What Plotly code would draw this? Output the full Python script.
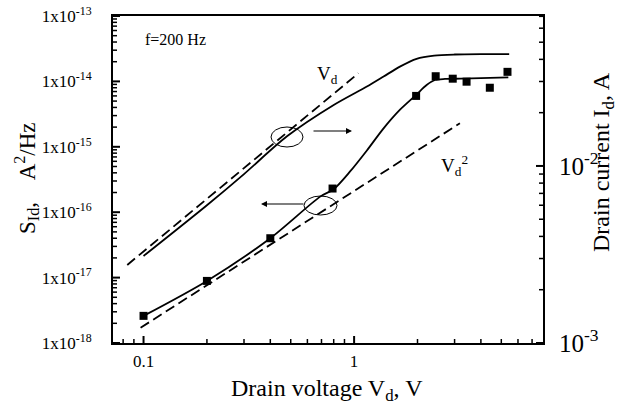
import math
import plotly.graph_objects as go

# ---------------- data ----------------
vd_meas = [0.1, 0.2, 0.4, 0.79, 1.97, 2.44, 2.94, 3.42, 4.41, 5.35]
s_meas = [2.6e-18, 8.9e-18, 4.0e-17, 2.3e-16, 6.0e-15, 1.2e-14, 1.1e-14, 9.9e-15, 8.0e-15, 1.4e-14]

vd_sfit = [0.1, 0.2, 0.4, 0.69, 0.8, 0.957, 1.15, 1.377, 1.652, 1.967, 2.21, 2.42, 2.7, 3.2, 4.0, 5.4]
s_fit = [2.6e-18, 8.9e-18, 4.0e-17, 1.73e-16, 2.25e-16, 4.2e-16, 8.8e-16, 1.9e-15, 3.7e-15,
         6.2e-15, 8.8e-15, 1.05e-14, 1.09e-14, 1.1e-14, 1.12e-14, 1.15e-14]

vd_id = [0.1, 0.2, 0.3, 0.48, 0.8, 1.15, 1.38, 1.65, 1.98, 2.4, 3.0, 4.0, 5.45]
id_curve = [3.1e-3, 6.0e-3, 9.0e-3, 0.0147, 0.0221, 0.0281, 0.032, 0.0364, 0.0403, 0.042, 0.0426,
            0.0428, 0.0428]

vd_lin = [0.0837, 1.048]
id_lin = [2.76e-3, 0.0334]

vd_sq = [0.0968, 3.18]
s_sq = [1.71e-18, 2.29e-15]

left_tickvals = [1e-18, 1e-17, 1e-16, 1e-15, 1e-14, 1e-13]
left_ticktext = ["1x10<sup>-18</sup>", "1x10<sup>-17</sup>", "1x10<sup>-16</sup>",
                 "1x10<sup>-15</sup>", "1x10<sup>-14</sup>", "1x10<sup>-13</sup>"]
right_tickvals = [1e-3, 1e-2]
right_ticktext = ["10<sup>-3</sup>", "10<sup>-2</sup>"]
x_tickvals = [0.1, 1]
x_ticktext = ["0.1", "1"]

# minor tick positions (2..9 within each decade)
x_minor = [m * 10.0 ** e for e in (-2, -1, 0) for m in range(2, 10)]
left_minor = [m * 10.0 ** e for e in range(-18, -13) for m in range(2, 10)]
right_minor = [m * 10.0 ** e for e in (-3, -2) for m in range(2, 10)]

# ---------------- layout geometry ----------------
W, H = 629, 411
L, R, T, B = 113, 543, 16, 343
FONT = "Liberation Serif, Times New Roman, serif"
X_RANGE = [-1.145, 0.897]
Y_RANGE = [-18, -13]
Y2_RANGE = [-3, -1.153]
PW, PH = R - L, B - T


def px(xp):
    return (xp - L) / PW


def py(yp):
    return (B - yp) / PH


def frac(v, rng):
    return (math.log10(v) - rng[0]) / (rng[1] - rng[0])


fig = go.Figure()

fig.add_trace(go.Scatter(x=vd_sq, y=s_sq, mode="lines",
                         line=dict(color="black", width=1.8, dash="10px,5px"),
                         showlegend=False, hoverinfo="skip"))
fig.add_trace(go.Scatter(x=vd_sfit, y=s_fit, mode="lines", line_shape="spline",
                         line=dict(color="black", width=1.8, smoothing=0.8), showlegend=False))
fig.add_trace(go.Scatter(x=vd_meas, y=s_meas, mode="markers",
                         marker=dict(symbol="square", size=8, color="black"),
                         showlegend=False))
fig.add_trace(go.Scatter(x=vd_lin, y=id_lin, mode="lines", yaxis="y2",
                         line=dict(color="black", width=1.8, dash="10px,5px"),
                         showlegend=False))
fig.add_trace(go.Scatter(x=vd_id, y=id_curve, mode="lines", yaxis="y2", line_shape="spline",
                         line=dict(color="black", width=1.8, smoothing=0.8), showlegend=False))

base = dict(showgrid=False, zeroline=False, linecolor="black", linewidth=2,
            ticks="", showline=True)

fig.update_layout(
    width=W, height=H,
    margin=dict(l=L, r=W - R, t=T, b=H - B, autoexpand=False),
    paper_bgcolor="white", plot_bgcolor="white",
    font=dict(family=FONT, color="black"),
    xaxis=dict(type="log", range=X_RANGE, tickvals=x_tickvals, ticktext=x_ticktext,
               mirror=True, ticklabelstandoff=2,
               tickfont=dict(family=FONT, size=17, color="black"), **base),
    yaxis=dict(type="log", range=Y_RANGE, tickvals=left_tickvals, ticktext=left_ticktext,
               mirror=False, ticklabelstandoff=16,
               tickfont=dict(family=FONT, size=17, color="black"), **base),
    yaxis2=dict(type="log", range=Y2_RANGE, overlaying="y", side="right",
                tickvals=right_tickvals, ticktext=right_ticktext, ticklabelstandoff=9,
                tickfont=dict(family=FONT, size=25, color="black"), **base),
)

# tick marks (drawn inward), positioned through the axis ranges
tick_shapes = []
for vals, ln, wd in ((x_tickvals, 7, 2), (x_minor, 4, 1.5)):
    for v in vals:
        f = frac(v, X_RANGE)
        if 0 < f < 1:
            tick_shapes.append(dict(type="line", xref="paper", yref="paper", x0=f, x1=f,
                                    y0=0, y1=ln / PH, line=dict(color="black", width=wd)))
for vals, ln, wd in ((left_tickvals, 7, 2), (left_minor, 4, 1.5)):
    for v in vals:
        f = frac(v, Y_RANGE)
        if 0 <= f <= 1:
            tick_shapes.append(dict(type="line", xref="paper", yref="paper", x0=0, x1=ln / PW,
                                    y0=f, y1=f, line=dict(color="black", width=wd)))
for vals, ln, wd in ((right_tickvals, 7, 2), (right_minor, 4, 1.5)):
    for v in vals:
        f = frac(v, Y2_RANGE)
        if 0 <= f <= 1:
            tick_shapes.append(dict(type="line", xref="paper", yref="paper", x0=1,
                                    x1=1 - ln / PW, y0=f, y1=f,
                                    line=dict(color="black", width=wd)))
for s in tick_shapes:
    fig.add_shape(layer="above", **s)

# ellipses and arrows
fig.add_shape(type="circle", xref="paper", yref="paper",
              x0=px(271), x1=px(303), y0=py(147), y1=py(127),
              line=dict(color="black", width=1))
fig.add_shape(type="circle", xref="paper", yref="paper",
              x0=px(304), x1=px(337), y0=py(215), y1=py(196),
              line=dict(color="black", width=1))

fig.add_annotation(x=px(352), y=py(131), xref="paper", yref="paper", text="",
                   showarrow=True, ax=-40, ay=0, arrowhead=2, arrowsize=1, arrowwidth=1.2,
                   arrowcolor="black")
fig.add_annotation(x=px(261), y=py(204), xref="paper", yref="paper", text="",
                   showarrow=True, ax=44, ay=0, arrowhead=2, arrowsize=1, arrowwidth=1.2,
                   arrowcolor="black")

# text labels
fig.add_annotation(x=px(143), y=py(39), xref="paper", yref="paper", text="f=200 Hz",
                   showarrow=False, xanchor="left", yanchor="middle",
                   font=dict(family=FONT, size=16, color="black"))
fig.add_annotation(x=px(315), y=py(75), xref="paper", yref="paper", text="V<sub>d</sub>",
                   showarrow=False, xanchor="left", yanchor="middle",
                   font=dict(family=FONT, size=19, color="black"))
fig.add_annotation(x=px(439), y=py(165), xref="paper", yref="paper",
                   text="V<sub>d</sub><sup>2</sup>",
                   showarrow=False, xanchor="left", yanchor="middle",
                   font=dict(family=FONT, size=19, color="black"))

# axis titles
fig.add_annotation(x=px(327), y=py(390), xref="paper", yref="paper",
                   text="Drain voltage V<sub>d</sub>, V", showarrow=False,
                   xanchor="center", yanchor="middle",
                   font=dict(family=FONT, size=24, color="black"))
fig.add_annotation(x=px(26), y=py(178), xref="paper", yref="paper",
                   text="S<sub>Id</sub>,\u00a0\u00a0\u00a0 A<sup>2</sup>/Hz",
                   showarrow=False, textangle=-90, xanchor="center", yanchor="middle",
                   font=dict(family=FONT, size=23, color="black"))
fig.add_annotation(x=px(603), y=py(162), xref="paper", yref="paper",
                   text="Drain current I<sub>d</sub>, A", showarrow=False, textangle=-90,
                   xanchor="center", yanchor="middle",
                   font=dict(family=FONT, size=24, color="black"))

fig.write_html("out.html")
